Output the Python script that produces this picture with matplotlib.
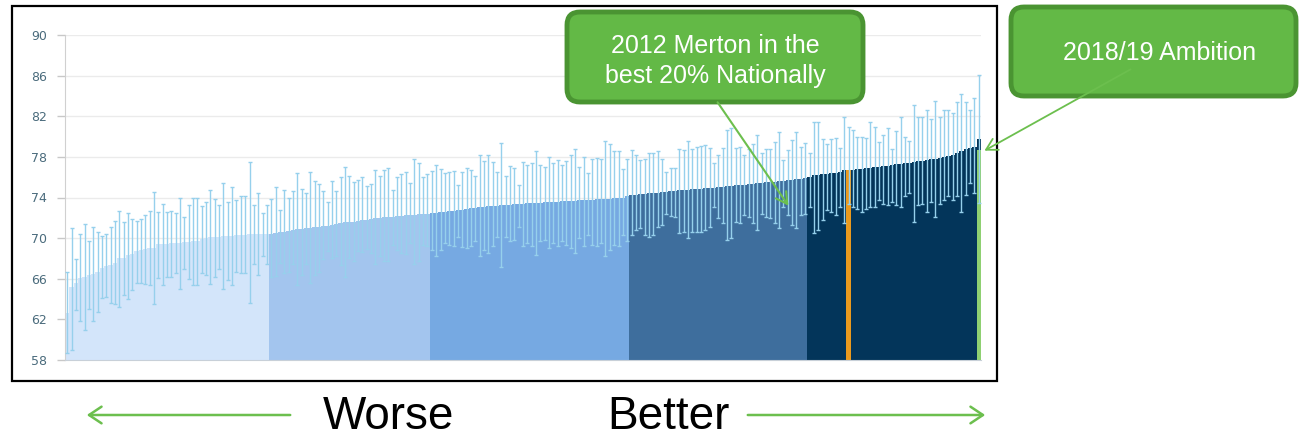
import matplotlib
matplotlib.use("Agg")
import matplotlib.pyplot as plt
from matplotlib.patches import FancyBboxPatch, Rectangle
import numpy as np

# indicator value per area, sorted low to high (5 bands)
band_sizes = [47, 37, 46, 41, 40]
band_colors = ["#d3e5fa", "#a3c5ee", "#76a9e2", "#3e6e9d", "#03355a"]

values = [
    # band 1
    62.6, 65.2, 65.6, 66.1, 66.2, 66.4, 66.5, 66.7, 67.1, 67.3,
    67.4, 67.6, 68.0, 68.0, 68.3, 68.4, 68.7, 68.8, 68.9, 69.0,
    69.0, 69.4, 69.4, 69.4, 69.5, 69.5, 69.5, 69.6, 69.6, 69.7,
    69.7, 69.9, 70.0, 70.1, 70.1, 70.1, 70.2, 70.2, 70.2, 70.3,
    70.3, 70.3, 70.4, 70.4, 70.4, 70.4, 70.4,
    # band 2
    70.4, 70.5, 70.6, 70.6, 70.7, 70.8, 70.9, 70.9, 71.0, 71.0,
    71.1, 71.1, 71.2, 71.2, 71.3, 71.4, 71.5, 71.6, 71.6, 71.6,
    71.7, 71.8, 71.8, 71.9, 72.0, 72.0, 72.1, 72.1, 72.1, 72.2,
    72.2, 72.3, 72.3, 72.3, 72.4, 72.4, 72.4,
    # band 3
    72.5, 72.5, 72.6, 72.6, 72.7, 72.7, 72.8, 72.8, 72.9, 73.0,
    73.0, 73.1, 73.1, 73.2, 73.2, 73.2, 73.3, 73.3, 73.3, 73.4,
    73.4, 73.4, 73.5, 73.5, 73.5, 73.5, 73.6, 73.6, 73.6, 73.6,
    73.7, 73.7, 73.7, 73.7, 73.8, 73.8, 73.8, 73.8, 73.9, 73.9,
    73.9, 73.9, 74.0, 74.0, 74.0, 74.1,
    # band 4
    74.2, 74.2, 74.3, 74.3, 74.4, 74.4, 74.4, 74.5, 74.5, 74.6,
    74.6, 74.7, 74.7, 74.7, 74.8, 74.8, 74.8, 74.9, 74.9, 74.9,
    75.0, 75.0, 75.1, 75.1, 75.2, 75.2, 75.2, 75.3, 75.3, 75.4,
    75.4, 75.5, 75.5, 75.5, 75.6, 75.6, 75.7, 75.7, 75.8, 75.8,
    75.9,
    # band 5
    76.0, 76.2, 76.2, 76.3, 76.3, 76.4, 76.4, 76.5, 76.7, 76.7,
    76.7, 76.8, 76.8, 76.9, 76.9, 77.0, 77.0, 77.1, 77.1, 77.2,
    77.3, 77.3, 77.4, 77.4, 77.5, 77.6, 77.6, 77.7, 77.8, 77.8,
    77.9, 78.0, 78.1, 78.2, 78.4, 78.6, 78.8, 78.9, 79.0, 79.8,
]

ci_upper = [
    66.7, 71.0, 67.9, 70.4, 71.4, 69.7, 71.1, 70.6, 70.2, 70.4,
    71.1, 71.7, 72.7, 71.6, 72.5, 71.9, 71.7, 71.9, 72.3, 72.7,
    74.5, 72.6, 73.4, 72.6, 72.7, 72.5, 74.0, 72.1, 73.3, 74.0,
    74.0, 73.2, 73.6, 74.7, 73.9, 73.3, 75.4, 73.6, 75.0, 73.8,
    74.1, 74.1, 77.5, 73.3, 74.4, 72.5, 73.3,
    73.9, 75.0, 72.8, 74.7, 74.0, 74.6, 76.4, 74.8, 74.4, 76.5,
    75.6, 75.3, 74.6, 73.6, 75.6, 74.6, 76.0, 77.0, 76.1, 75.5,
    75.7, 76.0, 75.1, 75.3, 76.7, 76.1, 76.7, 76.9, 74.7, 76.0,
    76.3, 76.5, 75.4, 77.8, 77.4, 76.0, 76.3,
    76.6, 77.2, 76.8, 76.4, 76.5, 76.6, 75.2, 76.5, 76.9, 76.7,
    76.1, 78.2, 77.6, 78.2, 77.5, 76.5, 79.4, 76.1, 77.1, 76.9,
    75.2, 77.5, 77.2, 77.4, 78.6, 77.2, 77.0, 78.0, 77.4, 77.7,
    77.2, 77.6, 78.2, 78.8, 77.0, 78.0, 76.4, 77.8, 77.9, 77.8,
    79.6, 79.3, 78.6, 78.6, 76.8, 77.8,
    78.7, 78.2, 77.7, 77.8, 78.4, 78.4, 78.6, 77.8, 76.5, 76.9,
    76.9, 78.8, 78.7, 79.6, 78.8, 79.0, 79.1, 79.2, 78.9, 77.4,
    78.2, 78.9, 80.6, 80.8, 78.9, 79.0, 78.2, 78.8, 79.3, 80.2,
    78.4, 78.8, 78.8, 79.5, 80.4, 77.7, 78.7, 79.7, 80.4, 79.0,
    79.4,
    78.4, 81.4, 81.4, 79.8, 79.3, 79.8, 79.9, 78.9, 81.9, 80.9,
    80.6, 80.0, 80.0, 79.9, 81.4, 80.9, 79.5, 80.2, 80.8, 78.8,
    80.5, 81.9, 80.0, 79.6, 83.1, 81.9, 81.9, 82.6, 81.7, 83.5,
    81.9, 82.6, 82.6, 82.3, 83.4, 84.2, 83.4, 82.6, 83.8, 86.1,
]

ci_lower = [
    58.7, 59.0, 62.9, 61.8, 61.0, 63.0, 61.8, 62.7, 64.1, 64.2,
    63.6, 63.5, 63.2, 64.4, 64.0, 64.9, 65.6, 65.6, 65.5, 65.4,
    63.5, 66.1, 65.4, 66.2, 66.2, 66.6, 65.0, 67.0, 66.0, 65.4,
    65.4, 66.6, 66.4, 65.5, 66.2, 67.0, 65.0, 65.9, 65.4, 66.7,
    66.6, 66.6, 63.6, 67.5, 66.4, 68.2, 67.5,
    66.2, 66.3, 67.6, 66.6, 66.7, 67.5, 65.4, 66.4, 67.5, 65.6,
    66.4, 66.7, 67.9, 68.7, 68.0, 68.2, 67.4, 66.2, 68.0, 67.7,
    68.7, 68.6, 68.9, 68.5, 67.5, 68.2, 67.7, 67.7, 69.3, 68.8,
    68.5, 68.4, 69.5, 67.5, 67.7, 69.3, 69.2,
    68.8, 68.2, 68.8, 69.5, 69.3, 69.2, 70.1, 69.1, 69.0, 69.2,
    69.7, 68.2, 68.8, 68.5, 69.2, 70.1, 67.2, 70.1, 69.7, 69.8,
    71.1, 69.2, 69.5, 69.2, 68.3, 69.7, 69.8, 69.0, 69.5, 69.2,
    69.7, 69.3, 69.0, 68.5, 70.0, 69.2, 70.3, 69.3, 69.2, 69.5,
    68.2, 68.8, 69.3, 69.2, 70.3, 69.7,
    70.3, 70.8, 71.0, 70.3, 70.1, 70.3, 71.1, 71.3, 72.4, 72.2,
    72.1, 70.5, 70.6, 70.0, 70.6, 70.6, 70.6, 70.8, 71.1, 73.1,
    72.0, 71.5, 69.8, 70.0, 71.6, 71.5, 72.3, 72.1, 71.5, 70.8,
    72.4, 72.1, 72.0, 71.5, 71.0, 73.1, 72.3, 71.3, 71.0, 72.3,
    72.4,
    73.1, 70.5, 70.8, 71.8, 72.8, 72.6, 72.3, 73.1, 71.5, 73.4,
    73.1, 72.9, 72.6, 72.9, 73.1, 73.1, 73.8, 73.4, 73.3, 73.6,
    73.3, 73.1, 74.1, 74.4, 71.6, 73.3, 73.4, 72.6, 73.6, 72.1,
    73.4, 73.8, 74.1, 73.8, 74.1, 72.6, 74.2, 75.4, 74.4, 73.5,
]

merton_index = 180
ambition_index = 210
ambition_value = 78.65

y_ticks = [58, 62, 66, 70, 74, 78, 82, 86, 90]

values = np.array(values)
ci_upper = np.array(ci_upper)
ci_lower = np.array(ci_lower)
x = np.arange(len(values))

colors = []
for n, c in zip(band_sizes, band_colors):
    colors += [c] * n
colors[merton_index] = "#eb9a1e"

W, H = 1303, 437
fig = plt.figure(figsize=(W / 100, H / 100), dpi=100)
fig.patch.set_facecolor("white")

# chart area
ax = fig.add_axes([65 / W, (H - 360) / H, 916 / W, 325 / H])
ax.bar(x, values, width=1.0, color=colors, linewidth=0, antialiased=False,
       zorder=2)
ax.bar(ambition_index, ambition_value, width=0.85, color="#8fd072",
       linewidth=0, zorder=3)
yerr = [np.clip(values - ci_lower, 0, None), np.clip(ci_upper - values, 0, None)]
eb = ax.errorbar(x, values, yerr=yerr, fmt="none", ecolor="#96d0ec",
                 elinewidth=1.0, capsize=1.6, capthick=1.0, zorder=4)
for cap in eb[1]:
    cap.set_color("#8797a3")

ax.set_xlim(-0.5, len(values) - 0.5)
ax.set_ylim(58, 90)
ax.set_yticks(y_ticks)
ax.set_xticks([])
ax.grid(axis="y", color="#ebebeb", linewidth=1.0, zorder=0)
ax.set_axisbelow(True)
for s in ["top", "right"]:
    ax.spines[s].set_visible(False)
ax.spines["left"].set_color("#d0d0d0")
ax.spines["bottom"].set_color("#c8d0d8")
ax.tick_params(axis="y", length=6, width=1, color="#c8c8c8",
               labelsize=9, labelcolor="#4a6b7c", pad=7)

# overlay in pixel coordinates for frame, callouts and arrows
ov = fig.add_axes([0, 0, 1, 1], zorder=10)
ov.set_xlim(0, W)
ov.set_ylim(H, 0)
ov.axis("off")
ov.patch.set_alpha(0)

ov.add_patch(Rectangle((12, 6), 985, 375, fill=False, edgecolor="black",
                       linewidth=1.6))

green_fill = "#63b946"
green_edge = "#4a9432"
arrow_green = "#6cbf4e"
font = ["Liberation Sans", "DejaVu Sans"]

ov.annotate("", xy=(790, 208), xytext=(716, 100),
            arrowprops=dict(arrowstyle="->,head_length=0.8,head_width=0.45",
                            color=arrow_green, lw=1.5))

for (bx, by, bw, bh) in [(567, 12, 296, 90), (1011, 7, 285, 89)]:
    ov.add_patch(FancyBboxPatch((bx, by), bw, bh,
                                boxstyle="round,pad=0,rounding_size=13",
                                facecolor=green_fill, edgecolor=green_edge,
                                linewidth=3.5))

ov.text(715, 61, "2012 Merton in the\nbest 20% Nationally", ha="center",
        va="center", color="white", fontsize=18, family=font,
        linespacing=1.3)
ov.text(1160, 53, "2018/19 Ambition", ha="center", va="center",
        color="white", fontsize=18, family=font)

ov.annotate("", xy=(982, 152), xytext=(1133, 68),
            arrowprops=dict(arrowstyle="->,head_length=0.8,head_width=0.45",
                            color=arrow_green, lw=1.3))

# worse / better
ov.text(388, 417, "Worse", ha="center", va="center", fontsize=33,
        family=font, color="black")
ov.text(668, 417, "Better", ha="center", va="center", fontsize=33,
        family=font, color="black")
ov.annotate("", xy=(84, 415), xytext=(293, 415),
            arrowprops=dict(arrowstyle="->,head_length=0.9,head_width=0.6",
                            color=arrow_green, lw=1.8))
ov.annotate("", xy=(988, 415), xytext=(745, 415),
            arrowprops=dict(arrowstyle="->,head_length=0.9,head_width=0.6",
                            color=arrow_green, lw=1.8))

fig.savefig("out.png", dpi=100)
